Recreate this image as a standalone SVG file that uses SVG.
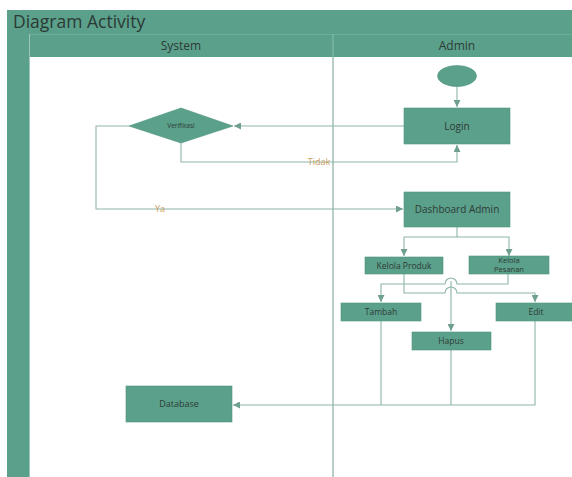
<svg xmlns="http://www.w3.org/2000/svg" width="572" height="477" viewBox="0 0 572 477">
<style>
.band{fill:#5ba08a}
.node{fill:#5ba08a;stroke:#4f9580;stroke-width:0.6}
.lbl{font-family:"Open Sans","Noto Sans",sans-serif;fill:#2d3b36;text-anchor:middle}
.ln{fill:none;stroke:#8db5a8;stroke-width:1.1}
.cond{font-family:"Open Sans","Noto Sans",sans-serif;font-size:9px;fill:#c9a25e;text-anchor:middle}
</style>
<defs>
<marker id="ah" viewBox="0 0 10 10" refX="10" refY="5" markerWidth="7" markerHeight="7" markerUnits="userSpaceOnUse" orient="auto">
<path d="M0,0 L10,5 L0,10 z" fill="#6e9f90"/>
</marker>
</defs>
<rect width="572" height="477" fill="#ffffff"/>
<g id="frame">
<rect class="band" x="7" y="10" width="565" height="24"/>
<rect class="band" x="7" y="34" width="565" height="23"/>
<rect class="band" x="7" y="34" width="22" height="443"/>
<line x1="29" y1="34.5" x2="572" y2="34.5" stroke="#6caf98" stroke-width="1"/>
<line x1="29.5" y1="34" x2="29.5" y2="477" stroke="#9cc7b8" stroke-width="1"/>
<line x1="333" y1="34" x2="333" y2="57" stroke="#8cc0ae" stroke-width="1"/>
<line x1="333" y1="57" x2="333" y2="477" stroke="#6f9e8f" stroke-width="1"/>
<text x="13" y="28" font-family="'Open Sans','Noto Sans',sans-serif" font-size="17.5" fill="#2b3a35">Diagram Activity</text>
<text class="lbl" x="181" y="50" font-size="12">System</text>
<text class="lbl" x="457" y="50" font-size="12">Admin</text>
</g>
<g id="connectors">
<path class="ln" d="M457,86 V107" marker-end="url(#ah)"/>
<path class="ln" d="M404,126 H234" marker-end="url(#ah)"/>
<path class="ln" d="M181,143 V162 H457 V145" marker-end="url(#ah)"/>
<path class="ln" d="M129,126 H96 V209 H403" marker-end="url(#ah)"/>
<path class="ln" d="M457,227 V237 H404 V256" marker-end="url(#ah)"/>
<path class="ln" d="M457,237 H509 V256" marker-end="url(#ah)"/>
<path class="ln" d="M508,274 V284 H457 A6,6 0 0 0 445,284 H381 V302" marker-end="url(#ah)"/>
<path class="ln" d="M451,281 V331" marker-end="url(#ah)"/>
<path class="ln" d="M404,274 V293 H445 A6,6 0 0 1 457,293 H535 V302" marker-end="url(#ah)"/>
<path class="ln" d="M381,321 V405"/>
<path class="ln" d="M451,350 V405"/>
<path class="ln" d="M535,321 V405 H233" marker-end="url(#ah)"/>
<text class="cond" x="319" y="165">Tidak</text>
<text class="cond" x="160" y="212">Ya</text>
</g>
<g id="start"><ellipse class="node" cx="457" cy="76" rx="19.5" ry="10.5"/></g>
<g id="login"><rect class="node" x="404" y="108" width="106" height="36"/><text class="lbl" x="457" y="130" font-size="10">Login</text></g>
<g id="verifikasi"><polygon class="node" points="129,126 181,108 233,126 181,143"/><text class="lbl" x="181" y="128" font-size="6.5">Verifikasi</text></g>
<g id="dashboard"><rect class="node" x="404" y="192" width="106" height="35"/><text class="lbl" x="457" y="213" font-size="10">Dashboard Admin</text></g>
<g id="kelola-produk"><rect class="node" x="365" y="257" width="78" height="17"/><text class="lbl" x="404" y="268.5" font-size="8.5">Kelola Produk</text></g>
<g id="kelola-pesanan"><rect class="node" x="469" y="256" width="80" height="18"/><text class="lbl" x="509" y="262.5" font-size="7.5">Kelola</text><text class="lbl" x="509" y="271.5" font-size="7.5">Pesanan</text></g>
<g id="tambah"><rect class="node" x="341" y="303" width="80" height="18"/><text class="lbl" x="381" y="315" font-size="8.5">Tambah</text></g>
<g id="edit"><rect class="node" x="496" y="303" width="80" height="18"/><text class="lbl" x="536" y="315" font-size="8.5">Edit</text></g>
<g id="hapus"><rect class="node" x="412" y="332" width="79" height="18"/><text class="lbl" x="451" y="344" font-size="8.5">Hapus</text></g>
<g id="database"><rect class="node" x="126" y="386" width="106" height="36"/><text class="lbl" x="179" y="407" font-size="9">Database</text></g>
</svg>
